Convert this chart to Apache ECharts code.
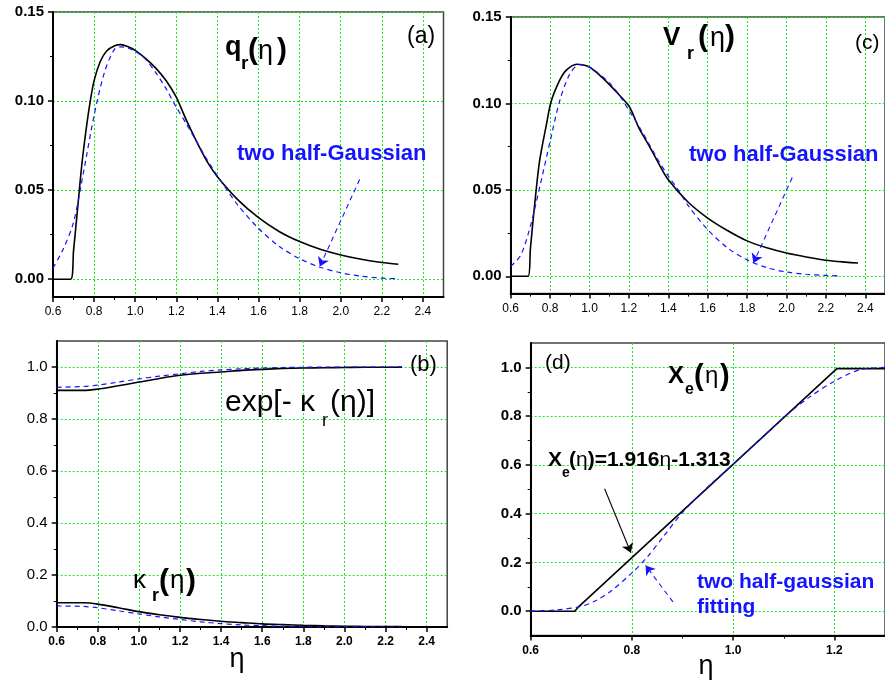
<!DOCTYPE html>
<html>
<head>
<meta charset="utf-8">
<script src="https://cdn.jsdelivr.net/npm/echarts@6/dist/echarts.min.js"></script>
<style>
  html, body { margin: 0; padding: 0; background: #fff; }
  #chart { width: 885px; height: 685px; }
</style>
</head>
<body>
<div id="chart"></div>
<script>
// ---- (a) q_r(eta) ----
var qEta = [0.6, 0.686, 0.70, 0.72, 0.74, 0.76, 0.78, 0.80, 0.83, 0.86, 0.90, 0.93, 0.96, 1.0, 1.05, 1.10, 1.15, 1.20, 1.22, 1.25, 1.30, 1.35, 1.40, 1.50, 1.60, 1.70, 1.80, 1.90, 2.0, 2.1, 2.2, 2.28]
var qCalc = [0, 0, 0.016, 0.040, 0.064, 0.083, 0.099, 0.1115, 0.1222, 0.128, 0.131, 0.1317, 0.1308, 0.1285, 0.124, 0.1185, 0.1115, 0.1022, 0.097, 0.089, 0.077, 0.066, 0.0575, 0.0445, 0.0345, 0.0268, 0.0211, 0.0168, 0.0136, 0.0112, 0.0094, 0.0084]
var qFitEta = [0.6, 0.65, 0.70, 0.75, 0.80, 0.85, 0.90, 0.935, 0.97, 1.0, 1.05, 1.1, 1.15, 1.2, 1.25, 1.3, 1.35, 1.4, 1.45, 1.5, 1.6, 1.7, 1.8, 1.9, 2.0, 2.1, 2.2, 2.28]
var qFit = [0.0062, 0.017, 0.032, 0.061, 0.092, 0.116, 0.1292, 0.1304, 0.1295, 0.128, 0.1235, 0.116, 0.107, 0.0965, 0.087, 0.077, 0.067, 0.058, 0.0495, 0.0415, 0.0285, 0.0185, 0.0115, 0.0067, 0.0036, 0.0017, 0.0006, 0.0002]
var qArrow = [[2.092, 0.056], [1.898, 0.0071]]

// ---- (c) V_r(eta) ----
var vEta = [0.6, 0.688, 0.70, 0.722, 0.747, 0.78, 0.805, 0.847, 0.88, 0.935, 0.97, 1.0, 1.05, 1.10, 1.15, 1.20, 1.22, 1.25, 1.30, 1.35, 1.40, 1.50, 1.60, 1.70, 1.80, 1.90, 2.0, 2.1, 2.2, 2.3, 2.363]
var vCalc = [0, 0, 0.016, 0.042, 0.067, 0.087, 0.101, 0.113, 0.119, 0.1227, 0.1222, 0.121, 0.1165, 0.111, 0.105, 0.0985, 0.094, 0.086, 0.076, 0.0655, 0.0558, 0.043, 0.0337, 0.0265, 0.0205, 0.0165, 0.0135, 0.0112, 0.0093, 0.0082, 0.0077]
var vFitEta = [0.6, 0.65, 0.70, 0.75, 0.80, 0.85, 0.90, 0.95, 1.0, 1.05, 1.1, 1.15, 1.2, 1.25, 1.3, 1.35, 1.4, 1.45, 1.5, 1.6, 1.7, 1.8, 1.9, 2.0, 2.1, 2.2, 2.274]
var vFit = [0.0058, 0.012, 0.029, 0.053, 0.078, 0.102, 0.117, 0.1225, 0.121, 0.117, 0.112, 0.105, 0.096, 0.087, 0.077, 0.067, 0.058, 0.050, 0.041, 0.027, 0.0165, 0.0095, 0.005, 0.0025, 0.0012, 0.0005, 0.0002]
var vArrow = [[2.029, 0.0571], [1.832, 0.0077]]

// ---- (b) exp[-kappa_r] and kappa_r ----
var bEta = [0.6, 0.73, 0.8, 0.9, 1.0, 1.1, 1.2, 1.3, 1.4, 1.5, 1.6, 1.7, 1.8, 1.9, 2.0, 2.1, 2.2, 2.28]
var expCalc = [0.910, 0.910, 0.915, 0.928, 0.942, 0.956, 0.968, 0.976, 0.981, 0.987, 0.991, 0.994, 0.996, 0.997, 0.998, 0.999, 0.999, 0.9995]
var expFit = [0.922, 0.925, 0.930, 0.942, 0.954, 0.965, 0.974, 0.983, 0.989, 0.993, 0.996, 0.998, 0.999, 1.0, 1.0, 1.0, 1.0, 1.0]
var kapCalc = [0.093, 0.093, 0.088, 0.074, 0.059, 0.047, 0.037, 0.029, 0.022, 0.017, 0.012, 0.009, 0.0065, 0.0045, 0.003, 0.0022, 0.0018, 0.0015]
var kapFit = [0.081, 0.079, 0.074, 0.062, 0.050, 0.039, 0.029, 0.020, 0.013, 0.008, 0.005, 0.0025, 0.001, 0.0005, 0.0003, 0.0001, 0, 0]

// ---- (d) X_e(eta) ----
var xeEta = [0.6, 0.687, 0.695, 1.2, 1.205, 1.3]
var xeCalc = [0, 0, 0.019, 0.986, 0.995, 0.995]
var xeFitEta = [0.6, 0.65, 0.70, 0.73, 0.76, 0.80, 0.83, 0.86, 0.90, 0.95, 1.0, 1.05, 1.1, 1.15, 1.2, 1.25, 1.3]
var xeFit = [0, 0.005, 0.02, 0.045, 0.085, 0.157, 0.222, 0.30, 0.405, 0.51, 0.602, 0.698, 0.795, 0.877, 0.943, 0.99, 1.0]
var xeLineArrow = [[0.746, 0.502], [0.798, 0.240]]
var xeFitArrow = [[0.881, 0.038], [0.827, 0.188]]

// ---- ticks ----
var etaTicks = [0.6, 0.8, 1.0, 1.2, 1.4, 1.6, 1.8, 2.0, 2.2, 2.4]
var etaMinor = [0.7, 0.9, 1.1, 1.3, 1.5, 1.7, 1.9, 2.1, 2.3]
var qTicks = [0, 0.05, 0.10, 0.15]
var qMinor = [0.025, 0.075, 0.125]
var unitTicks = [0, 0.2, 0.4, 0.6, 0.8, 1.0]
var unitMinor = [0.1, 0.3, 0.5, 0.7, 0.9]
var dEtaTicks = [0.6, 0.8, 1.0, 1.2]
var dEtaMinor = [0.7, 0.9, 1.1]

var FONT = "'Liberation Sans', Arial, Helvetica, sans-serif"
var BLACK = '#000'
var BLUE = '#1414ff'
var GREEN = '#11ee11'

function zip(xs, ys) {
  return xs.map(function(x, i) { return [x, ys[i]] })
}

function mainAxis(gi, pos, min, max, ticks, size, weight, digits) {
  return {
    type: 'value', gridIndex: gi, position: pos, min: min, max: max,
    axisLine: { show: true, onZero: false, lineStyle: { color: BLACK, width: 2 } },
    axisTick: { show: true, customValues: ticks, length: 5, lineStyle: { color: BLACK, width: 1.5 } },
    axisLabel: {
      customValues: ticks, color: BLACK, fontFamily: FONT, fontSize: size, fontWeight: weight,
      margin: 9,
      formatter: function(v) { return Number(v).toFixed(digits) }
    },
    splitLine: { show: true, lineStyle: { color: GREEN, type: [2, 2], width: 1 } }
  }
}

function minorAxis(gi, pos, min, max, ticks) {
  return {
    type: 'value', gridIndex: gi, position: pos, min: min, max: max,
    axisLine: { show: false, onZero: false },
    axisLabel: { show: false },
    splitLine: { show: false },
    axisTick: { show: true, customValues: ticks, length: 3, lineStyle: { color: BLACK, width: 1 } }
  }
}

function curve(gi, xs, ys, color, dashed, smooth) {
  return {
    type: 'line', xAxisIndex: 2 * gi, yAxisIndex: 2 * gi,
    data: zip(xs, ys), showSymbol: false, symbol: 'none',
    smooth: smooth, silent: true,
    lineStyle: { color: color, width: dashed ? 1.2 : 1.6, type: dashed ? [5, 4] : 'solid' }
  }
}

function arrow(pts, color, dashed) {
  return {
    silent: true, symbol: ['none', 'arrow'], symbolSize: 9,
    label: { show: false },
    lineStyle: { color: color, width: 1.1, type: dashed ? [5, 4] : 'solid' },
    data: [[{ coord: pts[0] }, { coord: pts[1] }]]
  }
}

function tx(text, left, base, size, weight, color, align) {
  return {
    type: 'text', x: left, y: base - 0.35 * size, silent: true, z: 100,
    style: {
      text: text, fill: color || BLACK, fontSize: size, fontWeight: weight || 'normal',
      fontFamily: FONT, align: align || 'left', verticalAlign: 'middle'
    }
  }
}

var gridBox = { show: true, borderColor: '#444', borderWidth: 1.5, backgroundColor: 'transparent' }

var sA = curve(0, qFitEta, qFit, BLUE, true, 0.3)
sA.markLine = arrow(qArrow, BLUE, true)
var sC = curve(2, vFitEta, vFit, BLUE, true, 0.3)
sC.markLine = arrow(vArrow, BLUE, true)
var sD1 = curve(3, xeEta, xeCalc, BLACK, false, false)
sD1.markLine = arrow(xeLineArrow, BLACK, false)
var sD2 = curve(3, xeFitEta, xeFit, BLUE, true, 0.3)
sD2.markLine = arrow(xeFitArrow, BLUE, true)

var option = {
  animation: false,
  backgroundColor: '#fff',
  grid: [
    Object.assign({ left: 53, top: 12, width: 390.5, height: 285 }, gridBox),
    Object.assign({ left: 56.7, top: 341, width: 390.5, height: 286 }, gridBox),
    Object.assign({ left: 510.7, top: 17, width: 379.3, height: 276.6 }, gridBox),
    Object.assign({ left: 530.7, top: 343, width: 388, height: 292.6 }, gridBox)
  ],
  xAxis: [
    mainAxis(0, 'bottom', 0.6, 2.5, etaTicks, 12, 'normal', 1),
    minorAxis(0, 'bottom', 0.6, 2.5, etaMinor),
    mainAxis(1, 'bottom', 0.6, 2.5, etaTicks, 12, 'bold', 1),
    minorAxis(1, 'bottom', 0.6, 2.5, etaMinor),
    mainAxis(2, 'bottom', 0.6, 2.5, etaTicks, 12, 'normal', 1),
    minorAxis(2, 'bottom', 0.6, 2.5, etaMinor),
    mainAxis(3, 'bottom', 0.6, 1.3, dEtaTicks, 12, 'bold', 1),
    minorAxis(3, 'bottom', 0.6, 1.3, dEtaMinor)
  ],
  yAxis: [
    mainAxis(0, 'left', -0.01, 0.15, qTicks, 15, 'bold', 2),
    minorAxis(0, 'left', -0.01, 0.15, qMinor),
    mainAxis(1, 'left', 0, 1.1, unitTicks, 15, 'normal', 1),
    minorAxis(1, 'left', 0, 1.1, unitMinor),
    mainAxis(2, 'left', -0.01, 0.15, qTicks, 15, 'bold', 2),
    minorAxis(2, 'left', -0.01, 0.15, qMinor),
    mainAxis(3, 'left', -0.1, 1.1, unitTicks, 15, 'bold', 1),
    minorAxis(3, 'left', -0.1, 1.1, unitMinor)
  ],
  series: [
    curve(0, qEta, qCalc, BLACK, false, 0.3),
    sA,
    curve(1, bEta, expCalc, BLACK, false, 0.3),
    curve(1, bEta, expFit, BLUE, true, 0.3),
    curve(1, bEta, kapCalc, BLACK, false, 0.3),
    curve(1, bEta, kapFit, BLUE, true, 0.3),
    curve(2, vEta, vCalc, BLACK, false, 0.3),
    sC,
    sD1,
    sD2
  ],
  graphic: [
    // (a)
    tx('q', 225, 57, 27, 'bold'),
    tx('r', 241, 70, 19, 'bold'),
    tx('(', 248, 61, 30, 'bold'),
    tx('η', 258, 61, 27),
    tx(')', 277, 61, 30, 'bold'),
    tx('(a)', 407, 45, 23),
    tx('two half-Gaussian', 237, 162, 22, 'bold', BLUE),
    // (c)
    tx('V', 663, 47, 26, 'bold'),
    tx('r', 687, 60, 18, 'bold'),
    tx('(', 698, 48, 30, 'bold'),
    tx('η', 710, 48, 27),
    tx(')', 725, 48, 30, 'bold'),
    tx('(c)', 855, 51, 21),
    tx('two half-Gaussian', 689, 163, 22, 'bold', BLUE),
    // (b)
    tx('(b)', 410, 373, 22),
    tx('exp[- κ', 225, 413, 30),
    tx('r', 322, 427, 18),
    tx('(η)]', 330, 413, 30),
    tx('κ', 133, 590, 26),
    tx('r', 152, 602, 18, 'bold'),
    tx('(', 159, 592, 30, 'bold'),
    tx('η', 170, 590, 26),
    tx(')', 186, 592, 30, 'bold'),
    tx('η', 237, 669, 27, 'normal', BLACK, 'center'),
    // (d)
    tx('(d)', 545, 371, 21),
    tx('X', 668, 385, 24, 'bold'),
    tx('e', 685, 395, 16, 'bold'),
    tx('(', 694, 387, 29, 'bold'),
    tx('η', 705, 385, 24),
    tx(')', 720, 387, 29, 'bold'),
    tx('X', 548, 468, 21, 'bold'),
    tx('e', 562, 478, 14, 'bold'),
    {
      type: 'text', x: 569, y: 468 - 0.35 * 21, silent: true, z: 100,
      style: {
        text: '{b|(}{n|η}{b|)=1.916}{n|η}{b|-1.313}',
        align: 'left', verticalAlign: 'middle',
        rich: {
          b: { fontSize: 21, fontWeight: 'bold', fontFamily: FONT, fill: BLACK },
          n: { fontSize: 21, fontWeight: 'normal', fontFamily: FONT, fill: BLACK }
        }
      }
    },
    tx('two half-gaussian', 697, 590, 21, 'bold', BLUE),
    tx('fitting', 697, 615, 21, 'bold', BLUE),
    tx('η', 706, 676, 27, 'normal', BLACK, 'center')
  ]
}

var chart = echarts.init(document.getElementById('chart'))
chart.setOption(option)
</script>
</body>
</html>
